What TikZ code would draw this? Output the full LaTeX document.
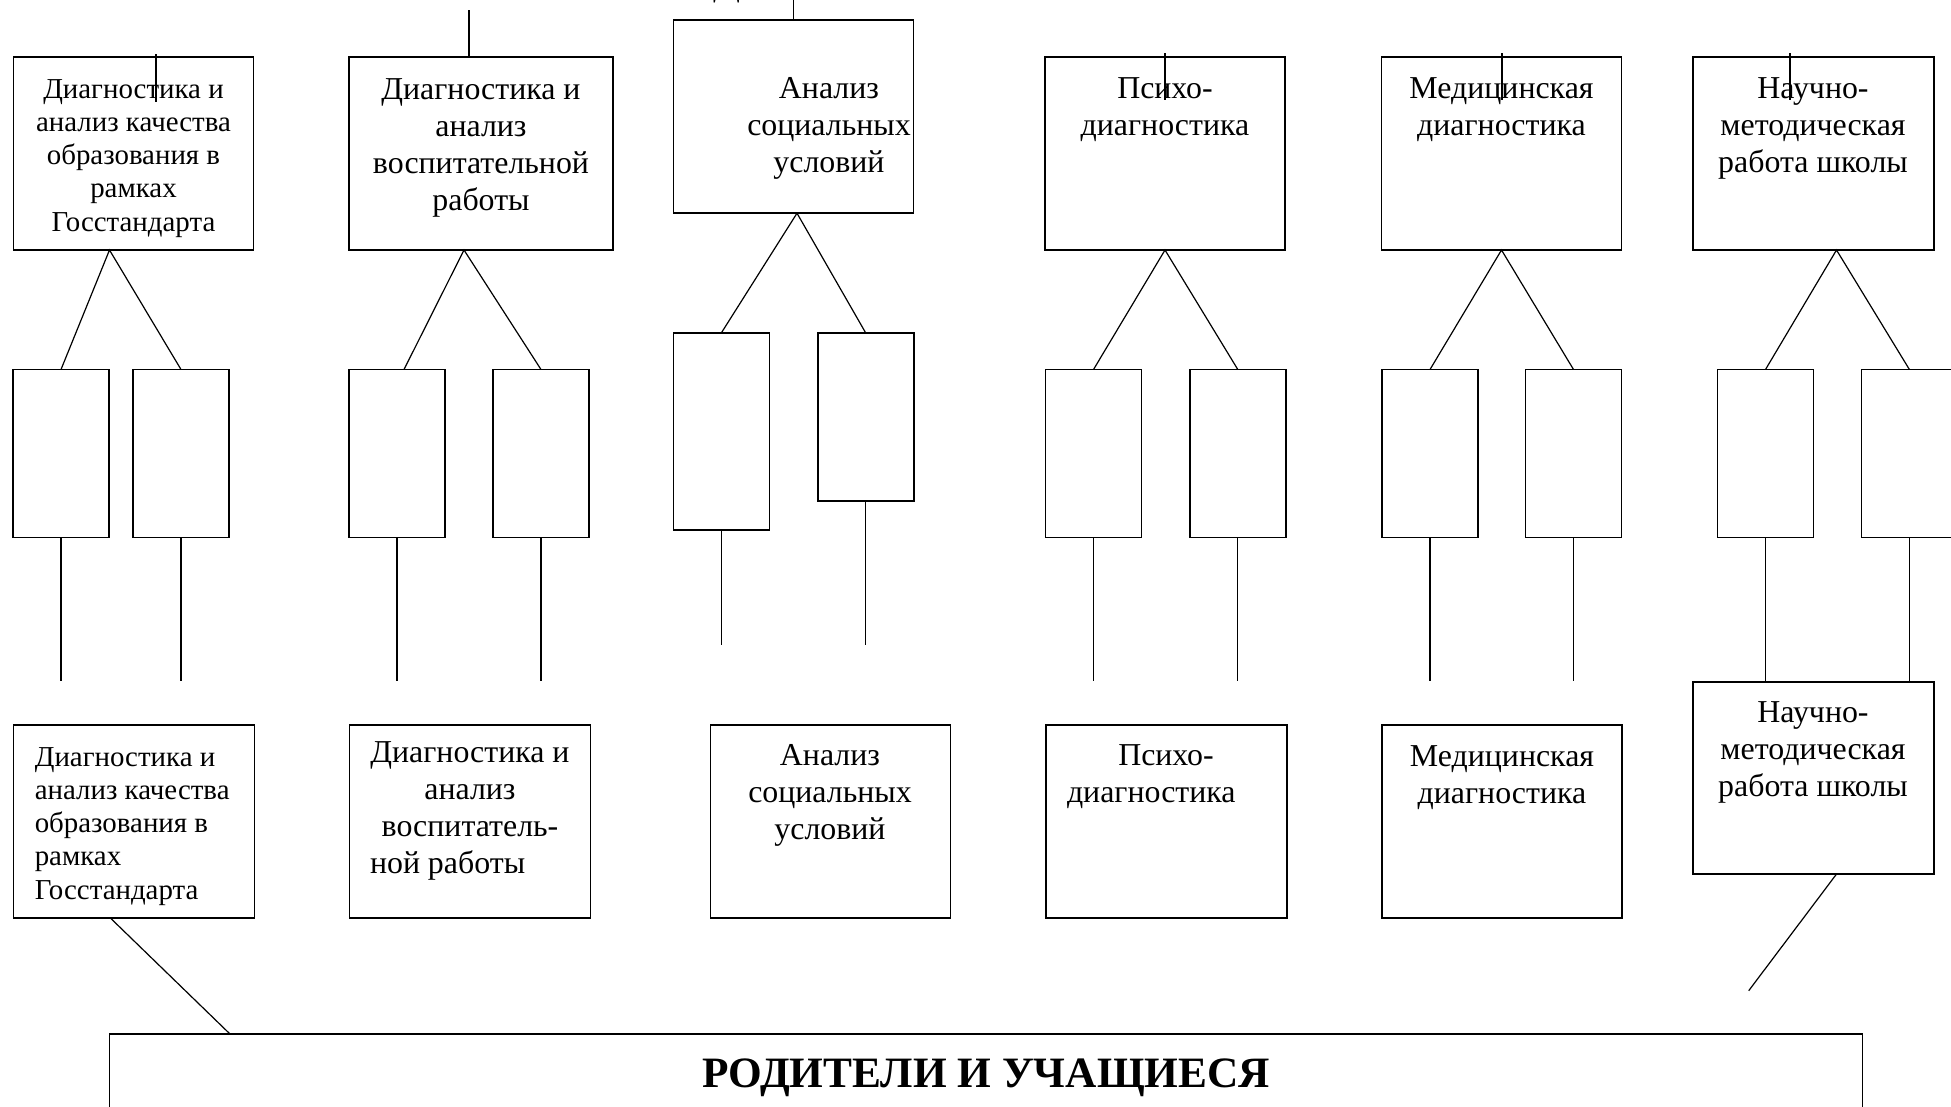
\documentclass[tikz,border=0pt]{standalone}
\usepackage{fontspec}
\setmainfont{Liberation Serif}
\begin{document}
\begin{tikzpicture}[x=1bp,y=-1bp,
  every node/.style={inner sep=0pt, outer sep=0pt},
  frame/.style={draw, line width=1.8bp},
  topbox/.style={frame, minimum width=240bp, minimum height=193bp},
  smallbox/.style={frame, minimum width=96bp, minimum height=168bp},
  link/.style={line width=1.2bp},
  lbl/.style={font=\fontsize{32}{37}\selectfont, align=center, anchor=base},
  lbls/.style={font=\fontsize{29}{33.3}\selectfont, align=center, anchor=base},
  big/.style={font=\fontsize{43.5}{50}\selectfont\bfseries, anchor=base}
]
\useasboundingbox (0,0) rectangle (1951,1106);

% top row boxes
\node[topbox] (t1) at (133.5,153.5) {};
\node[topbox, minimum width=264bp] (t2) at (481,153.5) {};
\node[topbox] (t3) at (793.5,116.7) {};
\node[topbox] (t4) at (1165,153.5) {};
\node[topbox] (t5) at (1501.5,153.5) {};
\node[topbox, minimum width=241bp] (t6) at (1813.5,153.5) {};

% top row texts (anchored at the baseline of their last line)
\node[lbls] (x1) at (133.5,231) {Диагностика и\\анализ качества\\образования в\\рамках\\Госстандарта};
\node[lbl] (x2) at (481,210) {Диагностика и\\анализ\\воспитательной\\работы};
\node[lbl] (x3) at (829,172) {Анализ\\социальных\\условий};
\node[lbl] (x4) at (1165,135) {Психо-\\диагностика};
\node[lbl] (x5) at (1501.5,135) {Медицинская\\диагностика};
\node[lbl] (x6) at (1813,172) {Научно-\\методическая\\работа школы};

% fragment of text above the top edge
\node[font=\fontsize{40}{40}\selectfont, anchor=base] (frag) at (727,-6) {Д};

% small boxes
\node[smallbox] (s11) at (61,453.5) {};
\node[smallbox] (s12) at (181,453.5) {};
\node[smallbox] (s21) at (397,453.5) {};
\node[smallbox] (s22) at (541,453.5) {};
\node[smallbox, minimum height=197.3bp] (s31) at (721.5,431.3) {};
\node[smallbox] (s32) at (865.7,416.9) {};
\node[smallbox] (s41) at (1093.5,453.5) {};
\node[smallbox] (s42) at (1237.8,453.5) {};
\node[smallbox] (s51) at (1430,453.5) {};
\node[smallbox] (s52) at (1573.5,453.5) {};
\node[smallbox] (s61) at (1765.5,453.5) {};
\node[smallbox] (s62) at (1909.4,453.5) {};

% bottom row boxes
\node[topbox, minimum width=241bp] (b1) at (134,821.8) {};
\node[topbox, minimum width=241bp] (b2) at (470,821.8) {};
\node[topbox] (b3) at (830.4,821.8) {};
\node[topbox, minimum width=241bp] (b4) at (1166.4,821.8) {};
\node[topbox] (b5) at (1502,821.8) {};
\node[topbox, minimum width=241bp, minimum height=192.3bp] (b6) at (1813.5,777.9) {};
\node[frame, minimum width=1753bp, minimum height=170bp] (pp) at (986,1119) {};

% bottom row texts (anchored at the baseline of their last line)
\node[lbls, align=left, anchor=base west] (y1) at (34.8,899) {Диагностика и\\анализ качества\\образования в\\рамках\\Госстандарта};
\node[lbl, align=left, anchor=base west] (y2) at (370,873) {\makebox[200bp]{Диагностика и}\\\makebox[200bp]{анализ}\\\makebox[200bp]{воспитатель-}\\ной работы};
\node[lbl] (y3) at (830,839) {Анализ\\социальных\\условий};
\node[lbl, align=left, anchor=base west] (y4) at (1067,802) {\makebox[198bp]{Психо-}\\диагностика};
\node[lbl] (y5) at (1502,803.5) {Медицинская\\диагностика};
\node[lbl] (y6) at (1813,796) {Научно-\\методическая\\работа школы};
\node[big] (pt) at (986,1087) {РОДИТЕЛИ И УЧАЩИЕСЯ};

% lines entering the top boxes
\coordinate (m1) at (156,54);
\coordinate (m2) at (469,10);
\coordinate (m3) at (793.5,0);
\coordinate (m4) at (1165,53);
\coordinate (m5) at (1502,53);
\coordinate (m6) at (1790,53);
\draw[link] (m1) -- ++(0,48);
\draw[link] (m2) -- (m2 |- t2.north);
\draw[link] (m3) -- (t3.north);
\draw[link] (m4) -- ++(0,47);
\draw[link] (m5) -- ++(0,47);
\draw[link] (m6) -- ++(0,47);

% forks from top boxes to small boxes
\draw[link] (s11.north) -- ([xshift=-24bp]t1.south) -- (s12.north);
\draw[link] ([xshift=7bp]s21.north) -- ([xshift=-17bp]t2.south) -- (s22.north);
\draw[link] (s31.north) -- ([xshift=3.5bp]t3.south) -- (s32.north);
\draw[link] (s41.north) -- (t4.south) -- (s42.north);
\draw[link] (s51.north) -- (t5.south) -- (s52.north);
\draw[link] (s61.north) -- ([xshift=23bp]t6.south) -- (s62.north);

% lines below small boxes
\coordinate (e11) at (61,681);
\coordinate (e12) at (181,681);
\coordinate (e21) at (397,681);
\coordinate (e22) at (541,681);
\coordinate (e31) at (721.5,645);
\coordinate (e32) at (865.7,645);
\coordinate (e41) at (1093.5,681);
\coordinate (e42) at (1237.8,681);
\coordinate (e51) at (1430,681);
\coordinate (e52) at (1573.5,681);
\draw[link] (s11.south) -- (e11);
\draw[link] (s12.south) -- (e12);
\draw[link] (s21.south) -- (e21);
\draw[link] (s22.south) -- (e22);
\draw[link] (s31.south) -- (e31);
\draw[link] (s32.south) -- (e32);
\draw[link] (s41.south) -- (e41);
\draw[link] (s42.south) -- (e42);
\draw[link] (s51.south) -- (e51);
\draw[link] (s52.south) -- (e52);
\draw[link] (s61.south) -- (s61.south |- b6.north);
\draw[link] (s62.south) -- (s62.south |- b6.north);

% lines toward the bottom box
\coordinate (f6) at (1748.7,990.7);
\draw[link] ([xshift=-23.3bp]b1.south) -- ([xshift=-756bp]pp.north);
\draw[link] ([xshift=23bp]b6.south) -- (f6);
\end{tikzpicture}
\end{document}
